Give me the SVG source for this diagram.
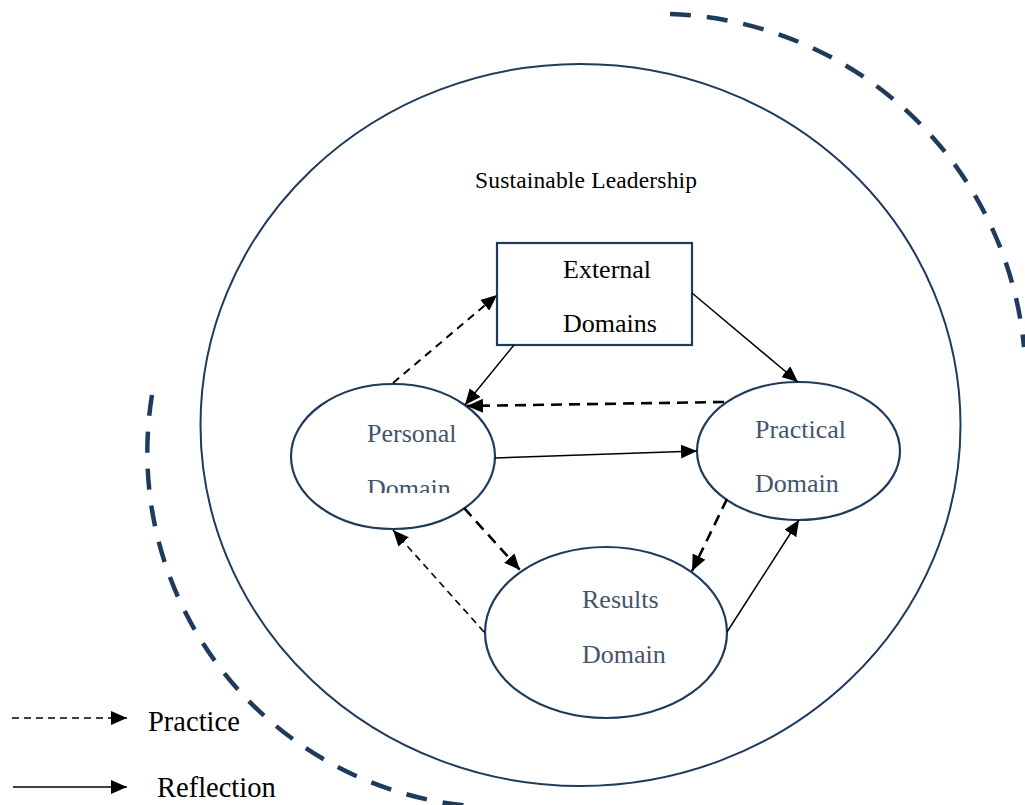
<svg xmlns="http://www.w3.org/2000/svg" width="1025" height="805" viewBox="0 0 1025 805">
<style>
.node{fill:#fff;stroke:#1f3b5c;stroke-width:2.2}
.ring{fill:none;stroke:#1f3b5c;stroke-width:2}
.outer{fill:none;stroke:#1f3b5c;stroke-width:4.5;stroke-dasharray:21 16}
.lbl{font-family:"Liberation Serif","Times New Roman",serif;font-size:26px;fill:#44546a}
.blk{font-family:"Liberation Serif","Times New Roman",serif;fill:#000}
.solid{stroke:#000;stroke-width:1.5;fill:none}
.dash1{stroke:#000;stroke-width:2;fill:none;stroke-dasharray:8 6}
.dash2{stroke:#000;stroke-width:2.6;fill:none;stroke-dasharray:11 7}
.dash3{stroke:#000;stroke-width:1.6;fill:none;stroke-dasharray:7 5}
</style>
<defs>
<marker id="ah" markerUnits="userSpaceOnUse" markerWidth="17" markerHeight="14" refX="16" refY="7" orient="auto">
<path d="M0,0 L16,7 L0,14 z" fill="#000"/>
</marker>
<clipPath id="cutP"><rect x="280" y="380" width="230" height="113"/></clipPath>
</defs>
<rect width="1025" height="805" fill="#fff"/>

<g id="outer-arcs">
<path class="outer" d="M670,14 A368,368 0 0 1 1024,347"/>
<path class="outer" d="M152,395 A355,355 0 0 0 470,806"/>
</g>

<g id="sustainable-leadership">
<ellipse class="ring" cx="580.5" cy="425" rx="380" ry="361"/>
<text class="blk" x="475" y="188" font-size="23.5" textLength="222" lengthAdjust="spacing">Sustainable Leadership</text>
</g>

<g id="external-domains">
<rect class="node" x="497" y="243" width="195" height="102"/>
<text class="blk" x="563" y="278" font-size="26">External</text>
<text class="blk" x="563" y="332" font-size="26">Domains</text>
</g>

<g id="personal-domain">
<ellipse class="node" cx="393" cy="456.5" rx="102" ry="72.5"/>
<text class="lbl" x="367" y="442">Personal</text>
<text class="lbl" x="367" y="497" clip-path="url(#cutP)">Domain</text>
</g>

<g id="practical-domain">
<ellipse class="node" cx="798.5" cy="451" rx="101.5" ry="69"/>
<text class="lbl" x="755" y="438">Practical</text>
<text class="lbl" x="755" y="492">Domain</text>
</g>

<g id="results-domain">
<ellipse class="node" cx="606" cy="632.5" rx="121" ry="85.5"/>
<text class="lbl" x="582" y="608">Results</text>
<text class="lbl" x="582" y="663">Domain</text>
</g>

<g id="connectors">
<line class="dash1" x1="393" y1="383" x2="497" y2="295" marker-end="url(#ah)"/>
<line class="solid" x1="514" y1="345" x2="465" y2="405" marker-end="url(#ah)"/>
<line class="dash2" x1="724" y1="402" x2="467" y2="406" marker-end="url(#ah)"/>
<line class="solid" x1="692" y1="293" x2="798" y2="382" marker-end="url(#ah)"/>
<line class="solid" x1="495" y1="458" x2="697" y2="451" marker-end="url(#ah)"/>
<line class="dash2" x1="464" y1="508" x2="520" y2="570" marker-end="url(#ah)"/>
<line class="dash3" x1="484" y1="632" x2="393" y2="530" marker-end="url(#ah)"/>
<line class="dash2" x1="727" y1="499" x2="692" y2="571" marker-end="url(#ah)"/>
<line class="solid" x1="727" y1="632" x2="799" y2="520" marker-end="url(#ah)"/>
</g>

<g id="legend">
<line class="dash3" x1="12" y1="718" x2="127" y2="718" marker-end="url(#ah)"/>
<text class="blk" x="148" y="731" font-size="28.5">Practice</text>
<line class="solid" x1="13" y1="787" x2="127" y2="787" marker-end="url(#ah)"/>
<text class="blk" x="157" y="797" font-size="28.5">Reflection</text>
</g>
</svg>
